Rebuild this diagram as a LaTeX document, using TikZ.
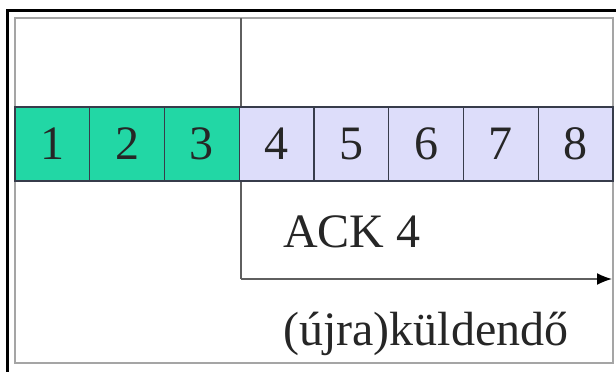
\documentclass[tikz,border=0pt]{standalone}
\usepackage{fontspec}
\setmainfont{Liberation Serif}
\usetikzlibrary{arrows.meta}
\definecolor{sentgreen}{RGB}{34,215,165}
\definecolor{pendlav}{RGB}{221,221,250}
\definecolor{cellline}{RGB}{55,60,75}
\definecolor{framegray}{RGB}{165,165,165}
\definecolor{guidegray}{RGB}{95,95,95}
\tikzset{
  cell/.style={draw=cellline, line width=1.4pt, minimum width=74.75pt, minimum height=74pt,
    inner sep=0pt, outer sep=0pt, font=\fontsize{48}{56}\selectfont, text=black!85},
  sent/.style={cell, fill=sentgreen},
  pending/.style={cell, fill=pendlav},
  label/.style={inner sep=0pt, font=\fontsize{48}{56}\selectfont, text=black!85},
  guide/.style={draw=guidegray, line width=1.6pt}
}
\begin{document}
\begin{tikzpicture}[x=1pt,y=-1pt]
  \useasboundingbox (0,0) rectangle (616,372);
  \clip (0,0) rectangle (616,372);
  \fill[white] (0,0) rectangle (616,372);
  % outer black frame
  \draw[line width=3pt, black] (7.5,10.5) rectangle (640,400);
  % inner gray frame
  \draw[line width=2pt, framegray, fill=white] (15,18) rectangle (613,363);
  % window boundary
  \coordinate (top) at (241,18);
  \coordinate (corner) at (241,279);
  \coordinate (end) at (612,279);
  \draw[guide] (top) -- (corner);
  \draw[guide, -{Latex[length=15pt,width=12pt,black]}] (corner) -- (end);
  % sequence cells
  \node[sent] (c1) at (52.375,144) {1};
  \node[sent, anchor=west] (c2) at (c1.east) {2};
  \node[sent, anchor=west] (c3) at (c2.east) {3};
  \node[pending, anchor=west] (c4) at (c3.east) {4};
  \node[pending, anchor=west] (c5) at (c4.east) {5};
  \node[pending, anchor=west] (c6) at (c5.east) {6};
  \node[pending, anchor=west] (c7) at (c6.east) {7};
  \node[pending, anchor=west] (c8) at (c7.east) {8};
  % labels
  \node[label, anchor=base west] (ack) at (283,247) {ACK 4};
  \node[label, anchor=base west] (resend) at (283,345) {(újra)küldendő};
\end{tikzpicture}
\end{document}
